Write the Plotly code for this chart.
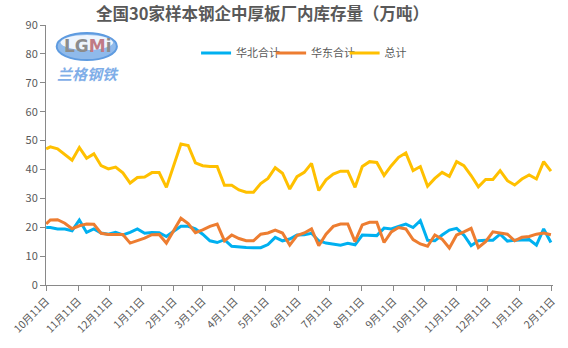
import pandas as pd
import plotly.graph_objects as go

# ---- data ----
dates = ["2020-10-11"] + [d.strftime("%Y-%m-%d") for d in pd.date_range("2020-10-15", periods=70, freq="7D")]

huabei = [19.9, 19.9, 19.4, 19.4, 18.8, 22.5, 18.2, 19.4, 18.0, 17.6,
          18.2, 17.3, 18.2, 19.4, 17.9, 18.2, 18.1, 16.8, 18.6, 20.3,
          20.3, 19.4, 17.6, 15.3, 14.7, 15.7, 13.4, 13.1, 13.0, 12.9,
          12.9, 14.0, 16.5, 15.3, 15.9, 17.3, 17.4, 17.9, 15.3, 14.5,
          14.2, 13.8, 14.4, 13.9, 17.3, 17.3, 17.1, 19.7, 19.4, 20.3,
          21.1, 19.9, 22.3, 15.5, 15.3, 17.3, 19.0, 19.6, 17.3, 13.6,
          15.3, 15.5, 15.5, 17.6, 15.2, 15.5, 15.7, 15.7, 13.8, 19.4, 14.7]

huadong = [21.1, 22.5, 22.6, 21.4, 19.5, 20.5, 21.1, 21.0, 17.9, 17.5,
           17.5, 17.5, 14.5, 15.3, 16.2, 17.4, 17.5, 14.5, 18.8, 23.1,
           21.3, 18.1, 19.1, 20.3, 21.1, 15.3, 17.3, 16.1, 15.3, 15.3,
           17.6, 18.0, 19.0, 18.0, 13.8, 17.1, 18.0, 19.4, 13.6, 17.6,
           20.3, 21.1, 21.1, 15.0, 20.8, 21.7, 21.7, 14.7, 18.4, 19.9,
           19.4, 15.7, 14.2, 13.4, 17.3, 15.9, 12.8, 17.3, 18.4, 19.6,
           13.0, 15.0, 18.4, 17.9, 17.6, 15.3, 16.5, 16.8, 17.6, 18.0, 17.4]

total = [47.1, 47.8, 47.1, 45.0, 43.2, 47.6, 43.9, 45.4, 41.3, 40.2,
         40.8, 38.8, 35.3, 37.2, 37.4, 38.9, 38.9, 33.8, 41.3, 48.8,
         48.3, 42.3, 41.3, 41.0, 41.0, 34.5, 34.5, 32.9, 32.1, 32.1,
         35.1, 36.9, 40.6, 38.7, 33.2, 37.5, 39.0, 42.1, 32.7, 36.4,
         38.4, 39.4, 39.4, 33.8, 41.0, 42.7, 42.4, 37.9, 41.3, 44.2,
         45.7, 39.6, 41.0, 34.2, 36.9, 39.0, 37.6, 42.7, 41.3, 37.9,
         34.0, 36.5, 36.5, 39.6, 36.1, 34.6, 36.7, 38.1, 36.7, 42.7, 39.4]

tick_vals = ["2020-10-11", "2020-11-11", "2020-12-11", "2021-01-11", "2021-02-11",
             "2021-03-11", "2021-04-11", "2021-05-11", "2021-06-11", "2021-07-11",
             "2021-08-11", "2021-09-11", "2021-10-11", "2021-11-11", "2021-12-11",
             "2022-01-11", "2022-02-11"]
tick_text = ["10月11日", "11月11日", "12月11日", "1月11日", "2月11日", "3月11日",
             "4月11日", "5月11日", "6月11日", "7月11日", "8月11日", "9月11日",
             "10月11日", "11月11日", "12月11日", "1月11日", "2月11日"]

series_names = ["华北合计", "华东合计", "总计"]
series_colors = ["#00B0F0", "#ED7D31", "#FFC000"]
legend_ids = ["legend", "legend2", "legend3"]
legend_x = [0.296, 0.444, 0.589]   # paper positions of the three legend entries

FONT = "Noto Sans CJK SC"
fig = go.Figure()
for name, vals, col, lid in zip(series_names, [huabei, huadong, total], series_colors, legend_ids):
    fig.add_trace(go.Scatter(x=dates, y=vals, name=name, mode="lines",
                             line=dict(color=col, width=3), legend=lid))

axis_col = "#898989"
leg_common = dict(orientation="h", y=0.892, xanchor="left", yanchor="middle",
                  font=dict(family=FONT, size=11, color="#595959"),
                  bgcolor="rgba(0,0,0,0)", itemwidth=30)
fig.update_layout(
    width=568, height=348,
    margin=dict(l=36, r=10, t=25, b=63),
    paper_bgcolor="white", plot_bgcolor="white",
    font=dict(family=FONT, color="#595959", size=11),
    title=dict(text="<b>全国30家样本钢企中厚板厂内库存量（万吨）</b>",
               x=0.462, xanchor="center", y=0.96, yanchor="middle",
               font=dict(family=FONT, size=16.5, color="#595959")),
    legend=dict(x=legend_x[0], **leg_common),
    legend2=dict(x=legend_x[1], **leg_common),
    legend3=dict(x=legend_x[2], **leg_common),
    showlegend=True,
)
fig.update_xaxes(type="date", range=["2020-10-10 20:00", "2022-02-12"],
                 tickvals=tick_vals, ticktext=tick_text, tickangle=-45,
                 ticklabeloverflow="allow",
                 showline=True, linecolor=axis_col, linewidth=1,
                 ticks="outside", ticklen=5, tickcolor=axis_col,
                 showgrid=False, zeroline=False,
                 tickfont=dict(size=10.5, color="#595959"))
fig.update_yaxes(range=[0, 90], dtick=10, showline=True, linecolor=axis_col, linewidth=1,
                 ticks="outside", ticklen=5, tickcolor=axis_col,
                 showgrid=False, zeroline=False,
                 tickfont=dict(size=11, color="#595959"))

# logo (approximation of the LGMI / 兰格钢铁 watermark)
def px_x(v):
    return (v - 36) / 522

def px_y(v):
    return (285 - v) / 260

fig.add_shape(type="circle", xref="paper", yref="paper",
              x0=px_x(47), x1=px_x(109), y0=px_y(60), y1=px_y(33),
              fillcolor="#8FBAEB", line=dict(color="#5E9BE0", width=2), layer="below")
fig.add_shape(type="circle", xref="paper", yref="paper",
              x0=px_x(51), x1=px_x(105), y0=px_y(50), y1=px_y(35),
              fillcolor="#EEF5FD", line=dict(width=0), layer="below")
fig.add_annotation(xref="paper", yref="paper", x=px_x(79), y=px_y(46),
                   xanchor="center", yanchor="middle",
                   text="<b>LG<span style='color:#C07A86'>M</span>i</b>", showarrow=False,
                   font=dict(family="DejaVu Sans", size=17, color="#8C8C8C"))
fig.add_annotation(xref="paper", yref="paper", x=px_x(79), y=px_y(73),
                   xanchor="center", yanchor="middle",
                   text="<b><i>兰格钢铁</i></b>", showarrow=False,
                   font=dict(family=FONT, size=15, color="#7FAEE8"))

fig.write_html("out.html")
